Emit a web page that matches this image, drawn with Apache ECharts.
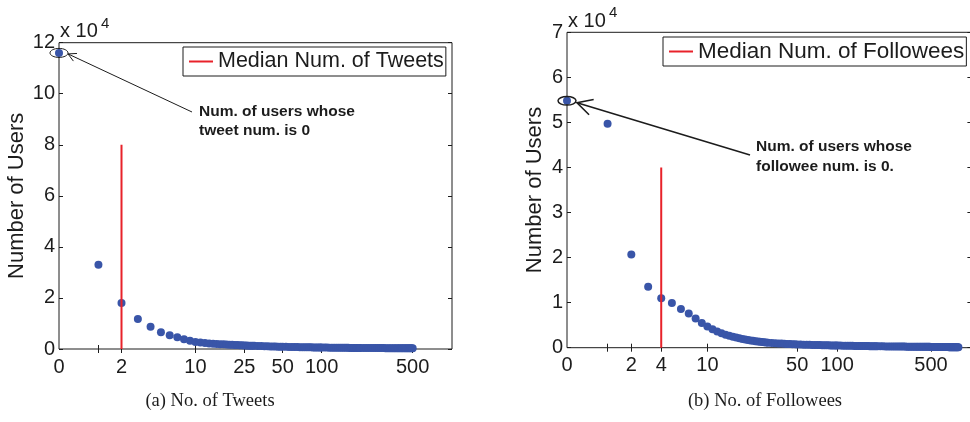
<!DOCTYPE html>
<html>
<head>
<meta charset="utf-8">
<script src="https://cdn.jsdelivr.net/npm/echarts@6/dist/echarts.min.js"></script>
<style>
html, body { margin: 0; padding: 0; background: #fff; }
#chart { width: 970px; height: 422px; }
</style>
</head>
<body>
<div id="chart"></div>
<script>
// (a) number of tweets -> number of users with that many tweets
const tweetNum = [0, 1, 2, 3, 4, 5, 6, 7, 8, 9, 10, 11, 12, 13, 14, 15, 16, 17, 18, 19, 20, 21, 22, 23, 24, 25, 26, 27, 28, 29, 30,
  32, 34, 36, 38, 40, 42, 44, 46, 48, 50,
  53, 56, 59, 62, 65, 68, 71, 74, 77, 80, 83, 86, 89, 92, 95, 98,
  100, 105, 110, 115, 120, 125, 130, 135, 140, 145, 150, 155, 160, 165, 170, 175, 180, 185, 190, 195, 200,
  210, 220, 230, 240, 250, 260, 270, 280, 290, 300, 310, 320, 330, 340, 350, 360, 370, 380, 390, 400,
  410, 420, 430, 440, 450, 460, 470, 480, 490, 500]
const tweetUsers = [116000, 33000, 18000, 11800, 8700, 6600, 5400, 4600, 3800, 3200,
  2700, 2500, 2350, 2200, 2100, 2000, 1900, 1820, 1750, 1680,
  1620, 1570, 1520, 1480, 1440, 1400, 1360, 1320, 1290, 1260, 1230,
  1180, 1130, 1090, 1050, 1010, 980, 950, 920, 900, 880,
  850, 820, 795, 770, 745, 725, 705, 690, 675, 660, 645, 630, 615, 605, 592, 580,
  575, 560, 548, 535, 522, 510, 500, 490, 480, 470, 462, 454, 446, 439, 432, 425, 419, 413, 407, 402, 397,
  390, 384, 378, 372, 366, 361, 356, 352, 348, 344, 340, 336, 333, 330, 327, 324, 321, 318, 315, 312,
  310, 307, 305, 302, 300, 298, 295, 293, 291, 289]

// (b) number of followees -> number of users
const followeeNum = [0, 1, 2, 3, 4, 5, 6, 7, 8, 9, 10, 11, 12, 13, 14, 15, 16, 17, 18, 19, 20, 21, 22, 23, 24, 25, 26, 27, 28, 29, 30,
  32, 34, 36, 38, 40, 42, 44, 46, 48, 50,
  53, 56, 59, 62, 65, 68, 71, 74, 77, 80, 83, 86, 89, 92, 95, 98,
  100, 105, 110, 115, 120, 125, 130, 135, 140, 145, 150, 155, 160, 165, 170, 175, 180, 185, 190, 195, 200,
  210, 220, 230, 240, 250, 260, 270, 280, 290, 300, 310, 320, 330, 340, 350, 360, 370, 380, 390, 400,
  410, 420, 430, 440, 450, 460, 470, 480, 490, 500, 510, 520, 530, 540, 550, 560, 570, 580, 590, 600,
  610, 620, 630, 640, 650, 660, 670, 680, 690, 700, 710, 720, 730, 740, 750, 760, 770, 780, 790, 800]
const followeeUsers = [54800, 49700, 20700, 13500, 11000, 9900, 8600, 7600, 6500, 5500,
  4700, 4100, 3600, 3200, 2900, 2650, 2450, 2250, 2100, 1950,
  1830, 1720, 1620, 1530, 1450, 1380, 1310, 1250, 1200, 1150, 1100,
  1050, 1000, 950, 910, 870, 840, 810, 780, 750, 730,
  700, 680, 660, 640, 620, 605, 590, 575, 560, 548, 536, 524, 512, 500, 490, 480,
  474, 462, 450, 440, 430, 420, 411, 402, 394, 386, 379, 372, 365, 358, 352, 346, 340, 334, 329, 324, 319,
  310, 302, 294, 287, 280, 274, 268, 262, 257, 252, 247, 242, 238, 234, 230, 226, 222, 218, 215, 212,
  208, 205, 202, 199, 196, 193, 190, 187, 184, 181, 178, 175, 172, 169, 166, 163, 160, 157, 154, 151,
  148, 145, 142, 139, 136, 133, 130, 127, 124, 121, 118, 115, 112, 109, 106, 103, 100, 97, 94, 91]

const tweetXLabels = [0, 2, 10, 25, 50, 100, 500]
const followeeXLabels = [0, 2, 4, 10, 50, 100, 500]
const tweetXTicks = [1, 2, 10, 25, 50, 100, 500]
const followeeXTicks = [1, 2, 4, 10, 50, 100, 500]

const tweetMedian = 2
const tweetMedianTop = 80000
const followeeMedian = 4
const followeeMedianTop = 40000

const FONT = '"Liberation Sans", Arial, sans-serif'
const SERIF = '"Liberation Serif", "Times New Roman", serif'
const INK = '#1c1c1c'
const BLUE = '#3955a8'
const RED = '#e8222a'

// x axis is log10(count + 1), like the original figure
const shift = v => v + 1

function xAxes(gridIndex, labels, ticks) {
  const base = {
    type: 'log', logBase: 10, min: 1, max: 1000, gridIndex,
    splitLine: { show: false },
    axisLine: { show: false },
    axisTick: { show: true, inside: true, length: 4, lineStyle: { color: INK }, customValues: ticks.map(shift) }
  }
  return [
    { ...base, position: 'bottom',
      axisLabel: { show: true, customValues: labels.map(shift), formatter: v => String(Math.round(v - 1)),
        color: INK, fontFamily: FONT, fontSize: 20, margin: 8 } },
    { ...base, position: 'top', axisLabel: { show: false } }
  ]
}

function yAxes(gridIndex, max, interval, gap) {
  const base = {
    type: 'value', min: 0, max, interval, gridIndex,
    splitLine: { show: false },
    axisLine: { show: false },
    axisTick: { show: true, inside: true, length: 4, lineStyle: { color: INK } }
  }
  return [
    { ...base, position: 'left',
      name: 'Number of Users', nameLocation: 'middle', nameGap: gap,
      nameTextStyle: { color: INK, fontFamily: FONT, fontSize: 22 },
      axisLabel: { show: true, formatter: v => String(v / 10000), color: INK, fontFamily: FONT, fontSize: 20,
        margin: 4, showMinLabel: true, showMaxLabel: true } },
    { ...base, position: 'right', axisLabel: { show: false } }
  ]
}

const legendBase = {
  orient: 'horizontal', icon: 'rect', itemWidth: 24, itemHeight: 2, itemGap: 0,
  borderColor: INK, borderWidth: 1, borderRadius: 0, backgroundColor: '#fff',
  selectedMode: false
}

const option = {
  animation: false,
  grid: [
    { left: 59, top: 42.7, width: 393, height: 306.3, show: true, borderColor: INK, borderWidth: 1, outerBoundsMode: 'none' },
    { left: 567, top: 32.3, width: 404.4, height: 315.4, show: true, borderColor: INK, borderWidth: 1, outerBoundsMode: 'none' }
  ],
  xAxis: [...xAxes(0, tweetXLabels, tweetXTicks), ...xAxes(1, followeeXLabels, followeeXTicks)],
  yAxis: [...yAxes(0, 120000, 20000, 31), ...yAxes(1, 70000, 10000, 21)],
  legend: [
    { ...legendBase, data: ['Median Num. of Tweets'], left: 183, top: 47, padding: [3, 2, 3, 6],
      textStyle: { color: INK, fontFamily: FONT, fontSize: 21.5, lineHeight: 23 } },
    { ...legendBase, data: ['Median Num. of Followees'], left: 663, top: 37, padding: [3, 2, 3, 6],
      textStyle: { color: INK, fontFamily: FONT, fontSize: 22.5, lineHeight: 23 } }
  ],
  series: [
    { type: 'scatter', xAxisIndex: 0, yAxisIndex: 0, symbolSize: 8, itemStyle: { color: BLUE, opacity: 1 },
      silent: true, z: 2, data: tweetNum.map((n, i) => [shift(n), tweetUsers[i]]) },
    { type: 'line', name: 'Median Num. of Tweets', xAxisIndex: 0, yAxisIndex: 0, symbol: 'none', z: 3,
      lineStyle: { color: RED, width: 2 }, itemStyle: { color: RED },
      data: [[shift(tweetMedian), 0], [shift(tweetMedian), tweetMedianTop]] },
    { type: 'scatter', xAxisIndex: 2, yAxisIndex: 2, symbolSize: 8, itemStyle: { color: BLUE, opacity: 1 },
      silent: true, z: 2, data: followeeNum.map((n, i) => [shift(n), followeeUsers[i]]) },
    { type: 'line', name: 'Median Num. of Followees', xAxisIndex: 2, yAxisIndex: 2, symbol: 'none', z: 3,
      lineStyle: { color: RED, width: 2 }, itemStyle: { color: RED },
      data: [[shift(followeeMedian), 0], [shift(followeeMedian), followeeMedianTop]] }
  ]
}

const chart = echarts.init(document.getElementById('chart'), null, { renderer: 'canvas' })
chart.setOption(option)

// annotations: ellipse around the zero point and an arrow to it
function arrow(from, to, len, lw) {
  const ang = Math.atan2(from[1] - to[1], from[0] - to[0])
  const a = 28 * Math.PI / 180
  const p1 = [to[0] + len * Math.cos(ang + a), to[1] + len * Math.sin(ang + a)]
  const p2 = [to[0] + len * Math.cos(ang - a), to[1] + len * Math.sin(ang - a)]
  return [
    { type: 'line', shape: { x1: from[0], y1: from[1], x2: to[0], y2: to[1] }, style: { stroke: INK, lineWidth: lw } },
    { type: 'polyline', shape: { points: [p1, to, p2] }, style: { stroke: INK, lineWidth: lw, fill: null } }
  ]
}

const z0 = chart.convertToPixel({ seriesIndex: 0 }, [shift(tweetNum[0]), tweetUsers[0]])
const z1 = chart.convertToPixel({ seriesIndex: 2 }, [shift(followeeNum[0]), followeeUsers[0]])

const noteFont = 'bold 15.5px ' + FONT
const graphic = [
  { type: 'ellipse', shape: { cx: z0[0], cy: z0[1], rx: 9, ry: 4.5 }, style: { stroke: INK, fill: null, lineWidth: 1 }, z: 10 },
  ...arrow([192, 112], [z0[0] + 9, z0[1] + 1], 9, 1),
  { type: 'text', x: 199, y: 102, style: { text: 'Num. of users whose\ntweet num. is 0', font: noteFont, fill: INK, lineHeight: 19, verticalAlign: 'top' } },

  { type: 'ellipse', shape: { cx: z1[0], cy: z1[1], rx: 9, ry: 4.3 }, style: { stroke: INK, fill: null, lineWidth: 1.5 }, z: 10 },
  ...arrow([750, 155], [z1[0] + 10, z1[1] + 2], 17, 1.6),
  { type: 'text', x: 756, y: 137, style: { text: 'Num. of users whose\nfollowee num. is 0.', font: noteFont, fill: INK, lineHeight: 20, verticalAlign: 'top' } },

  // x 10^4 multipliers
  { type: 'text', x: 60, y: 31.5, style: { text: 'x 10', font: '20px ' + FONT, fill: INK, verticalAlign: 'middle' } },
  { type: 'text', x: 101, y: 24, style: { text: '4', font: '15px ' + FONT, fill: INK, verticalAlign: 'middle' } },
  { type: 'text', x: 568, y: 21.5, style: { text: 'x 10', font: '20px ' + FONT, fill: INK, verticalAlign: 'middle' } },
  { type: 'text', x: 609, y: 13, style: { text: '4', font: '15px ' + FONT, fill: INK, verticalAlign: 'middle' } },

  // sub captions
  { type: 'text', x: 210, y: 401, style: { text: '(a) No. of Tweets', font: '18.5px ' + SERIF, fill: INK, align: 'center', verticalAlign: 'middle' } },
  { type: 'text', x: 765, y: 401, style: { text: '(b) No. of Followees', font: '18.5px ' + SERIF, fill: INK, align: 'center', verticalAlign: 'middle' } }
]
chart.setOption({ graphic })
</script>
</body>
</html>
